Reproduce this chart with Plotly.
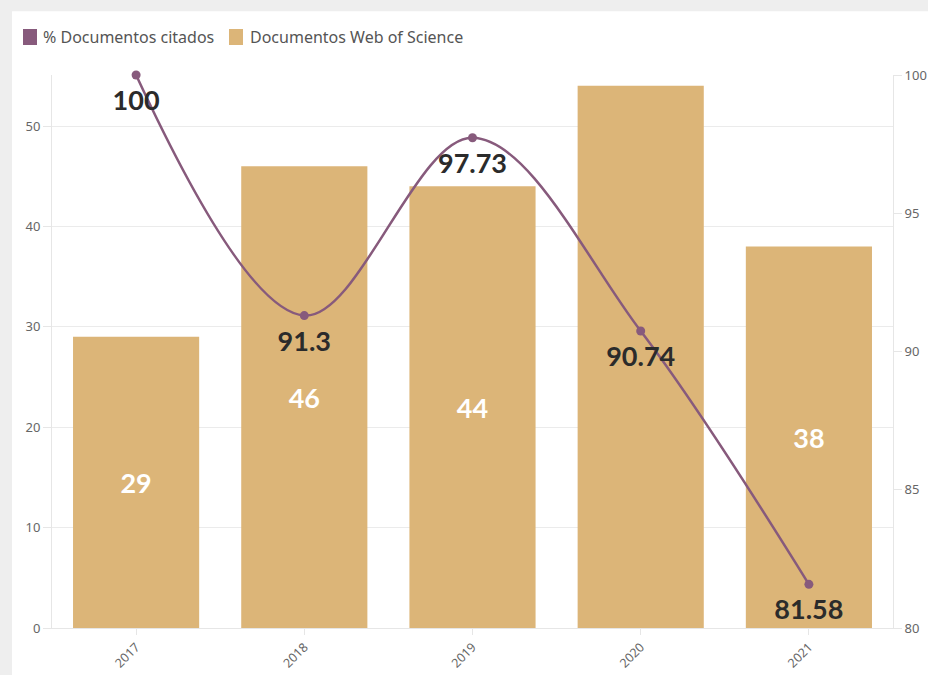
import plotly.graph_objects as go

years = ["2017", "2018", "2019", "2020", "2021"]
docs_wos = [29, 46, 44, 54, 38]
pct_citados = [100, 91.3, 97.73, 90.74, 81.58]
# the 2020 bar value is not printed in the reference (hidden under the line label)
bar_labels = ["29", "46", "44", "", "38"]
pct_labels = ["100", "91.3", "97.73", "90.74", "81.58"]

BAR_COLOR = "#dcb578"
LINE_COLOR = "#875a7c"

fig = go.Figure()

fig.add_trace(go.Bar(
    x=years, y=docs_wos, name="Documentos Web of Science",
    marker=dict(color=BAR_COLOR, line=dict(width=0)),
    text=bar_labels, textposition="inside",
    insidetextanchor="middle",
    textfont=dict(family="Lato", size=27, color="white", weight="bold"),
    showlegend=False, yaxis="y",
))

fig.add_trace(go.Scatter(
    x=years, y=pct_citados, name="% Documentos citados",
    mode="lines+markers",
    line=dict(color=LINE_COLOR, width=2.5, shape="spline", smoothing=1),
    marker=dict(color=LINE_COLOR, size=9),
    cliponaxis=False, showlegend=False, yaxis="y2",
))

# value labels under the points (transparent bigger marker gives the offset)
fig.add_trace(go.Scatter(
    x=years, y=pct_citados, mode="markers+text",
    marker=dict(color="rgba(0,0,0,0)", size=22),
    text=pct_labels, textposition="bottom center",
    textfont=dict(family="Lato", size=27, color="#2b2b2b", weight="bold"),
    cliponaxis=False, showlegend=False, hoverinfo="skip", yaxis="y2",
))

# grey page border / card look
fig.add_shape(type="rect", xref="paper", yref="paper",
              x0=-0.2, x1=1.2, y0=-0.2, y1=1.3,
              fillcolor="#eeeeee", line=dict(width=0), layer="below")
fig.add_shape(type="rect", xref="paper", yref="paper",
              x0=-0.0475, x1=1.2, y0=-0.2, y1=1.1155,
              fillcolor="white", line=dict(width=0), layer="below")

# custom legend with rounded square swatches
legend_items = [("% Documentos citados", LINE_COLOR, 23, 41),
                ("Documentos Web of Science", BAR_COLOR, 229, 248)]
W, H, L, T, B = 928, 675, 52, 75, 628
pw, ph = W - L - 35, B - T


def px_x(p):
    return (p - L) / pw


def px_y(p):
    return (B - p) / ph


for label, col, sx, tx in legend_items:
    x0, x1 = px_x(sx), px_x(sx + 14)
    fig.add_shape(type="rect", xref="paper", yref="paper",
                  x0=x0, x1=x1, y0=px_y(45), y1=px_y(29),
                  fillcolor=col, line=dict(width=0), layer="above")
    fig.add_annotation(xref="paper", yref="paper", x=px_x(tx), y=px_y(37),
                       xanchor="left", yanchor="middle", showarrow=False,
                       text=label,
                       font=dict(family="Noto Sans", size=16, color="#555555"))

fig.update_layout(
    width=W, height=H,
    margin=dict(l=L, r=35, t=T, b=H - B, autoexpand=False),
    paper_bgcolor="white", plot_bgcolor="rgba(0,0,0,0)",
    barmode="overlay", bargap=0.25,
    font=dict(family="Noto Sans", color="#666666"),
    showlegend=False,
    xaxis=dict(
        type="category", tickangle=-45,
        tickfont=dict(size=12.5, color="#666666"),
        showgrid=False, showline=True, linecolor="#e6e6e6",
        ticks="outside", ticklen=6, tickcolor="#e6e6e6", automargin=False,
    ),
    yaxis=dict(
        range=[0, 55.08], tickvals=[0, 10, 20, 30, 40, 50],
        tickfont=dict(size=13, color="#666666"),
        showgrid=True, gridcolor="#ebebeb", zeroline=False,
        showline=True, linecolor="#e6e6e6",
        ticks="outside", ticklen=8, tickcolor="#e6e6e6", automargin=False,
    ),
    yaxis2=dict(
        overlaying="y", side="right", range=[80, 100],
        tickvals=[80, 85, 90, 95, 100],
        tickfont=dict(size=13, color="#666666"),
        showgrid=False, zeroline=False,
        showline=True, linecolor="#e6e6e6",
        ticks="outside", ticklen=8, tickcolor="#e6e6e6", automargin=False,
    ),
)

fig.write_html(
    "out.html",
    config={"displayModeBar": False},
    post_script="document.body.style.margin='0';document.body.style.overflow='hidden';",
)
